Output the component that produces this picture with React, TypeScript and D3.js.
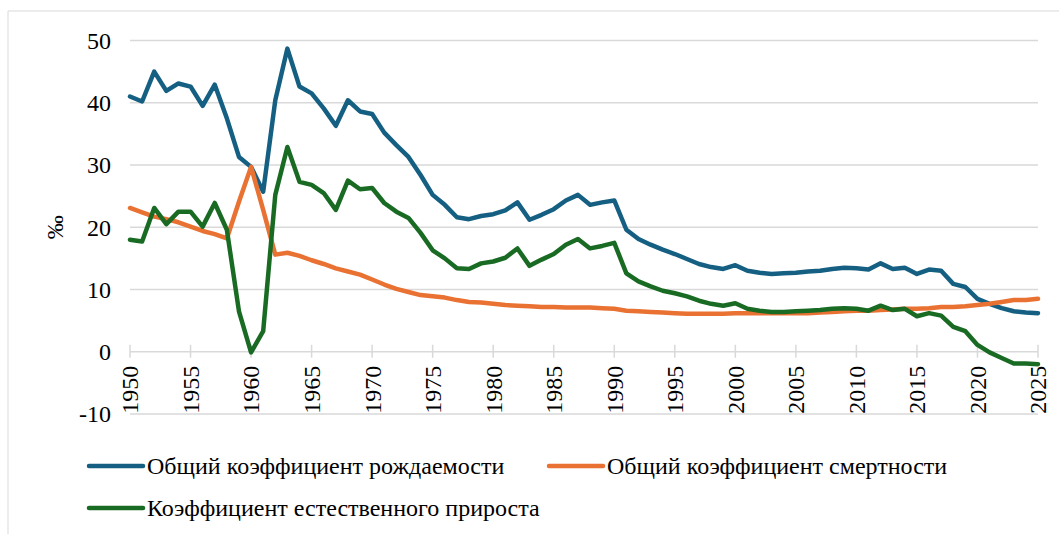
import * as d3 from "d3";

const years = [
  1950, 1951, 1952, 1953, 1954, 1955, 1956, 1957, 1958, 1959,
  1960, 1961, 1962, 1963, 1964, 1965, 1966, 1967, 1968, 1969,
  1970, 1971, 1972, 1973, 1974, 1975, 1976, 1977, 1978, 1979,
  1980, 1981, 1982, 1983, 1984, 1985, 1986, 1987, 1988, 1989,
  1990, 1991, 1992, 1993, 1994, 1995, 1996, 1997, 1998, 1999,
  2000, 2001, 2002, 2003, 2004, 2005, 2006, 2007, 2008, 2009,
  2010, 2011, 2012, 2013, 2014, 2015, 2016, 2017, 2018, 2019,
  2020, 2021, 2022, 2023, 2024, 2025,
];

// общий коэффициент рождаемости, ‰
const birthRate = [
  41.0, 40.2, 45.0, 41.9, 43.1, 42.6, 39.5, 42.9, 37.5, 31.3,
  29.7, 25.7, 40.4, 48.7, 42.6, 41.5, 39.1, 36.3, 40.4, 38.6,
  38.2, 35.2, 33.2, 31.3, 28.4, 25.2, 23.6, 21.6, 21.3, 21.8,
  22.1, 22.7, 24.0, 21.2, 22.0, 22.9, 24.3, 25.2, 23.6, 24.0,
  24.3, 19.6, 18.1, 17.2, 16.4, 15.7, 14.9, 14.1, 13.6, 13.3,
  13.9, 13.0, 12.7, 12.5, 12.6, 12.7, 12.9, 13.0, 13.3, 13.5,
  13.4, 13.2, 14.2, 13.3, 13.5, 12.5, 13.2, 13.0, 10.9, 10.4,
  8.5, 7.7, 7.0, 6.5, 6.3, 6.2,
];

// общий коэффициент смертности, ‰
const deathRate = [
  23.1, 22.4, 21.7, 21.3, 20.8, 20.1, 19.4, 18.9, 18.2, 24.1,
  29.7, 22.8, 15.6, 15.9, 15.4, 14.7, 14.1, 13.4, 12.9, 12.4,
  11.6, 10.8, 10.1, 9.6, 9.1, 8.9, 8.7, 8.3, 8.0, 7.9,
  7.7, 7.5, 7.4, 7.3, 7.2, 7.2, 7.1, 7.1, 7.1, 7.0,
  6.9, 6.6, 6.5, 6.4, 6.3, 6.2, 6.1, 6.1, 6.1, 6.1,
  6.2, 6.2, 6.2, 6.2, 6.2, 6.2, 6.2, 6.3, 6.4, 6.5,
  6.6, 6.6, 6.7, 6.8, 6.9, 6.9, 7.0, 7.2, 7.2, 7.3,
  7.5, 7.7, 8.0, 8.3, 8.3, 8.5,
];

// коэффициент естественного прироста, ‰
const naturalIncrease = [
  18.0, 17.7, 23.1, 20.5, 22.5, 22.5, 20.1, 23.9, 19.6, 6.5,
  -0.1, 3.3, 25.2, 32.9, 27.3, 26.8, 25.5, 22.8, 27.5, 26.1,
  26.3, 23.9, 22.5, 21.5, 19.1, 16.3, 15.0, 13.4, 13.3, 14.2,
  14.5, 15.1, 16.6, 13.8, 14.8, 15.7, 17.2, 18.1, 16.6, 17.0,
  17.5, 12.6, 11.3, 10.5, 9.8, 9.4, 8.9, 8.2, 7.7, 7.4,
  7.8, 6.9, 6.6, 6.4, 6.4, 6.5, 6.6, 6.7, 6.9, 7.0,
  6.9, 6.6, 7.4, 6.7, 6.9, 5.7, 6.2, 5.8, 4.0, 3.3,
  1.1, -0.1, -1.0, -1.9, -1.9, -2.0,
];

const yTicks = [-10, 0, 10, 20, 30, 40, 50];
const xTicks = [1950, 1955, 1960, 1965, 1970, 1975, 1980, 1985, 1990, 1995, 2000, 2005, 2010, 2015, 2020, 2025];

const series = [
  { name: "Общий коэффициент рождаемости", values: birthRate, color: "#156082" },
  { name: "Общий коэффициент смертности", values: deathRate, color: "#E97132" },
  { name: "Коэффициент естественного прироста", values: naturalIncrease, color: "#196B24" },
];

const W = 1059;
const H = 534;
const serif = { fontFamily: "Liberation Serif" };
const GRID = "#d9d9d9";

export default function App() {
  const x = d3.scaleLinear().domain([1950, 2025]).range([130, 1038]);
  const y = d3.scaleLinear().domain([-10, 50]).range([414, 40.5]);

  const line = d3
    .line<number>()
    .x((_, i) => x(years[i]))
    .y(d => y(d));

  const legendPos = [
    { x: 87, y: 466 },
    { x: 547, y: 466 },
    { x: 87, y: 508 },
  ];

  return (
    <div style={{ position: "absolute", left: 0, top: 0 }}>
      <svg width={W} height={H} style={{ display: "block" }}>
        <rect x={0} y={0} width={W} height={H} fill="#fff" />
        {/* chart area border */}
        <line x1={8} x2={W} y1={11} y2={11} stroke={GRID} strokeWidth={1} />
        <line x1={8} x2={8} y1={11} y2={H} stroke={GRID} strokeWidth={1} />

        {/* gridlines */}
        {yTicks.map(t => (
          <line key={t} x1={x(1950)} x2={x(2025)} y1={y(t)} y2={y(t)} stroke={GRID} strokeWidth={1.5} />
        ))}
        {/* x ticks on the zero line */}
        {xTicks.map(t => (
          <line key={t} x1={x(t)} x2={x(t)} y1={y(0) - 7} y2={y(0) + 6} stroke={GRID} strokeWidth={1.5} />
        ))}

        {/* y tick labels */}
        {yTicks.map(t => (
          <text key={t} x={111} y={y(t)} dy="0.35em" textAnchor="end" fontSize={24} style={serif} fill="#000">
            {t}
          </text>
        ))}
        <text
          transform={`translate(55,${y(20)}) rotate(-90)`}
          textAnchor="middle"
          dy="0.35em"
          fontSize={24}
          style={serif}
          fill="#000"
        >
          ‰
        </text>

        {/* x tick labels */}
        {xTicks.map(t => (
          <text
            key={t}
            transform={`translate(${x(t)},${y(0) + 14}) rotate(-90)`}
            textAnchor="end"
            dy="0.35em"
            fontSize={24}
            style={serif}
            fill="#000"
          >
            {t}
          </text>
        ))}

        {/* series */}
        {series.map(s => (
          <path
            key={s.name}
            d={line(s.values) || ""}
            fill="none"
            stroke={s.color}
            strokeWidth={4.5}
            strokeLinejoin="round"
            strokeLinecap="round"
          />
        ))}

        {/* legend */}
        {series.map((s, i) => (
          <g key={s.name} transform={`translate(${legendPos[i].x},${legendPos[i].y})`}>
            <line x1={2} x2={56} y1={0} y2={0} stroke={s.color} strokeWidth={4.5} strokeLinecap="round" />
            <text x={60} y={0} dy="0.35em" fontSize={24} style={serif} fill="#000">
              {s.name}
            </text>
          </g>
        ))}
      </svg>
    </div>
  );
}
